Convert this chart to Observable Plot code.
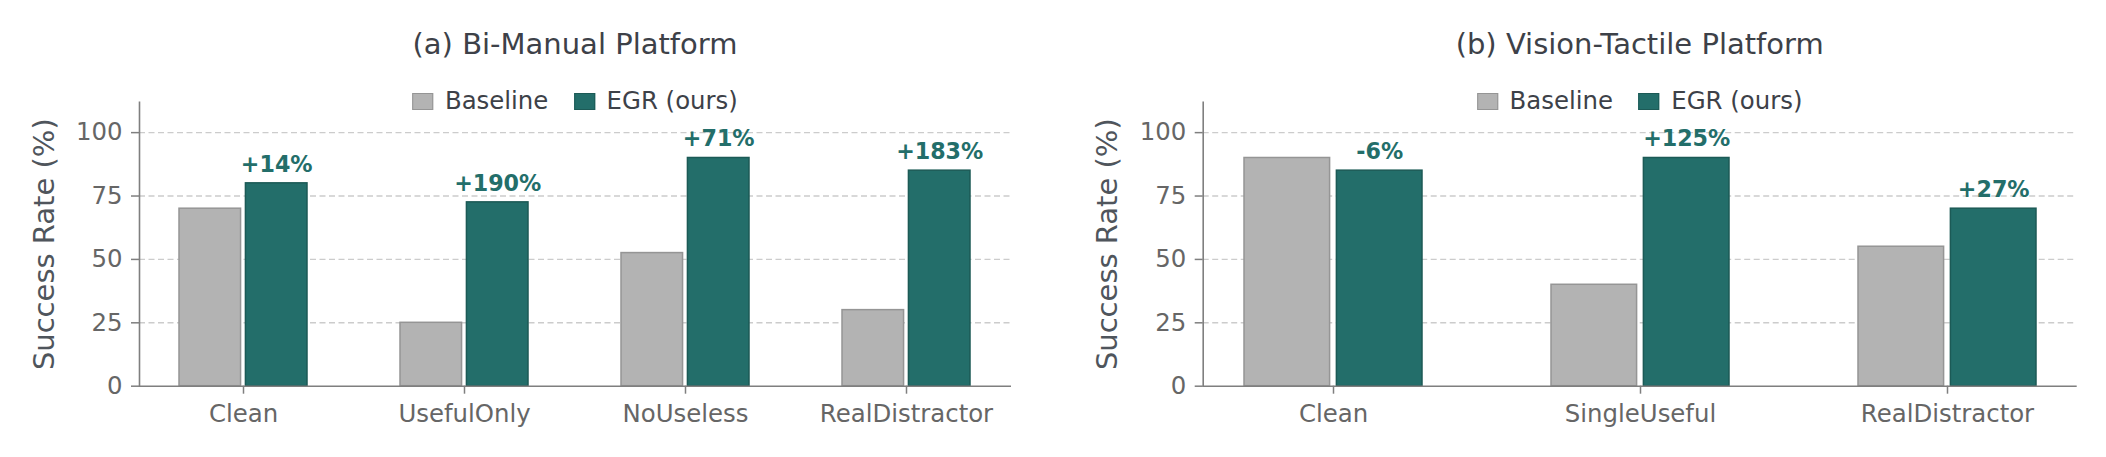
<!DOCTYPE html>
<html>
<head>
<meta charset="utf-8">
<script src="https://cdn.jsdelivr.net/npm/d3@7"></script>
<script src="https://cdn.jsdelivr.net/npm/@observablehq/plot@0.6"></script>
<style>
  body { margin: 0; background: #fff; font-family: "DejaVu Sans", sans-serif; }
  #wrap { position: relative; width: 2106px; height: 457px; overflow: hidden; background: #fff; }
  .panel { position: absolute; top: 0; width: 1053px; height: 457px; }
  .panel svg { position: absolute; left: 0; top: 0; }
  .title { position: absolute; font-size: 29px; line-height: 1; color: #3d4148; white-space: nowrap; transform: translateX(-50%); }
  .legend { position: absolute; display: flex; align-items: center; font-size: 24.4px; line-height: 1; color: #3d4148; white-space: nowrap; transform: translateX(-50%); }
  .sw { display: inline-block; box-sizing: border-box; width: 21px; height: 17.7px; border: 1.5px solid; margin-right: 11.7px; }
  .item { display: flex; align-items: center; }
  .item + .item { margin-left: 25.6px; }
</style>
</head>
<body>
<div id="wrap"></div>
<script>
// ---------------- data ----------------
const series = ["Baseline", "EGR (ours)"];
const seriesFill = ["#b3b3b3", "#236e6a"];
const seriesStroke = ["#959595", "#1c5a56"];
const yTicks = [0, 25, 50, 75, 100];
const yLabel = "Success Rate (%)";

const titleA = "(a) Bi-Manual Platform";
const categoriesA = ["Clean", "UsefulOnly", "NoUseless", "RealDistractor"];
const baselineA = [70, 25, 52.5, 30];
const egrA = [80, 72.5, 90, 85];
const gainsA = ["+14%", "+190%", "+71%", "+183%"];

const titleB = "(b) Vision-Tactile Platform";
const categoriesB = ["Clean", "SingleUseful", "RealDistractor"];
const baselineB = [90, 40, 55];
const egrB = [85, 90, 70];
const gainsB = ["-6%", "+125%", "+27%"];

// ---------------- layout ----------------
const W = 1053, H = 457, MT = 101.7, MB = 71.3;
const BAR_W = 0.28, OFFSET = 0.15;          // bar width and offset in group units
const HALF = OFFSET + BAR_W / 2;             // half group extent (0.29)
const PAD_INNER = 1 - 2 * HALF;              // 0.42

function makePanel(left, title, categories, baseline, egr, gains, mL, mR) {
  const n = categories.length;
  const margin = 0.05 * (n - 1 + 2 * HALF);
  const plotW = W - mL - mR;
  const step = plotW / (n - PAD_INNER + 2 * margin);
  const inset = (2 * HALF - BAR_W) * step;

  const baseRows = categories.map((c, i) => ({category: c, value: baseline[i]}));
  const egrRows = categories.map((c, i) => ({category: c, value: egr[i], gain: gains[i]}));

  const svg = Plot.plot({
    width: W, height: H,
    marginTop: MT, marginBottom: MB, marginLeft: mL, marginRight: mR,
    style: {fontFamily: "DejaVu Sans, sans-serif", background: "transparent", overflow: "visible"},
    x: {type: "band", domain: categories, paddingInner: PAD_INNER, paddingOuter: margin, align: 0.5, axis: null},
    y: {domain: [0, 112], axis: null},
    marks: [
      Plot.ruleY(yTicks.filter(d => d > 0), {stroke: "#cccccc", strokeWidth: 1.4, strokeDasharray: "6,3.5"}),
      Plot.barY(baseRows, {x: "category", y: "value", fill: seriesFill[0], stroke: seriesStroke[0], strokeWidth: 1.5, insetRight: inset}),
      Plot.barY(egrRows, {x: "category", y: "value", fill: seriesFill[1], stroke: seriesStroke[1], strokeWidth: 1.5, insetLeft: inset}),
      Plot.ruleY([0], {stroke: "#7f7f7f", strokeWidth: 1.6}),
      Plot.frame({anchor: "left", stroke: "#7f7f7f", strokeWidth: 1.6}),
      Plot.axisY({ticks: yTicks, tickSize: 8, tickPadding: 9, fontSize: 24.4, color: "#666666", stroke: "#7f7f7f", strokeWidth: 1.5, label: null}),
      Plot.axisX({tickSize: 8, tickPadding: 10, fontSize: 24.4, color: "#666666", stroke: "#7f7f7f", strokeWidth: 1.5, label: null}),
      Plot.text(egrRows, {x: "category", y: "value", text: "gain", dx: OFFSET * step, dy: -11.7, lineAnchor: "bottom",
        fontWeight: "bold", fontSize: 22.2, fill: seriesFill[1]}),
      Plot.text([yLabel], {text: d => d, frameAnchor: "left", textAnchor: "middle", rotate: -90, dx: -86, lineAnchor: "bottom",
        fontSize: 29, fill: "#4f555c"})
    ]
  });

  const div = document.createElement("div");
  div.className = "panel";
  div.style.left = left + "px";
  div.appendChild(svg);

  const cx = mL + plotW / 2;
  const t = document.createElement("div");
  t.className = "title";
  t.textContent = title;
  t.style.left = cx + "px";
  t.style.top = (55 - 0.846 * 29) + "px";
  div.appendChild(t);

  const lg = document.createElement("div");
  lg.className = "legend";
  lg.style.left = cx + "px";
  lg.style.top = (110 - 0.846 * 24.4) + "px";
  series.forEach((s, i) => {
    const it = document.createElement("span");
    it.className = "item";
    const sw = document.createElement("span");
    sw.className = "sw";
    sw.style.background = seriesFill[i];
    sw.style.borderColor = seriesStroke[i];
    const lab = document.createElement("span");
    lab.textContent = s;
    it.appendChild(sw);
    it.appendChild(lab);
    lg.appendChild(it);
  });
  div.appendChild(lg);

  document.getElementById("wrap").appendChild(div);
}

makePanel(0, titleA, categoriesA, baselineA, egrA, gainsA, 139, 42);
makePanel(1053, titleB, categoriesB, baselineB, egrB, gainsB, 149.7, 29.3);
</script>
</body>
</html>
